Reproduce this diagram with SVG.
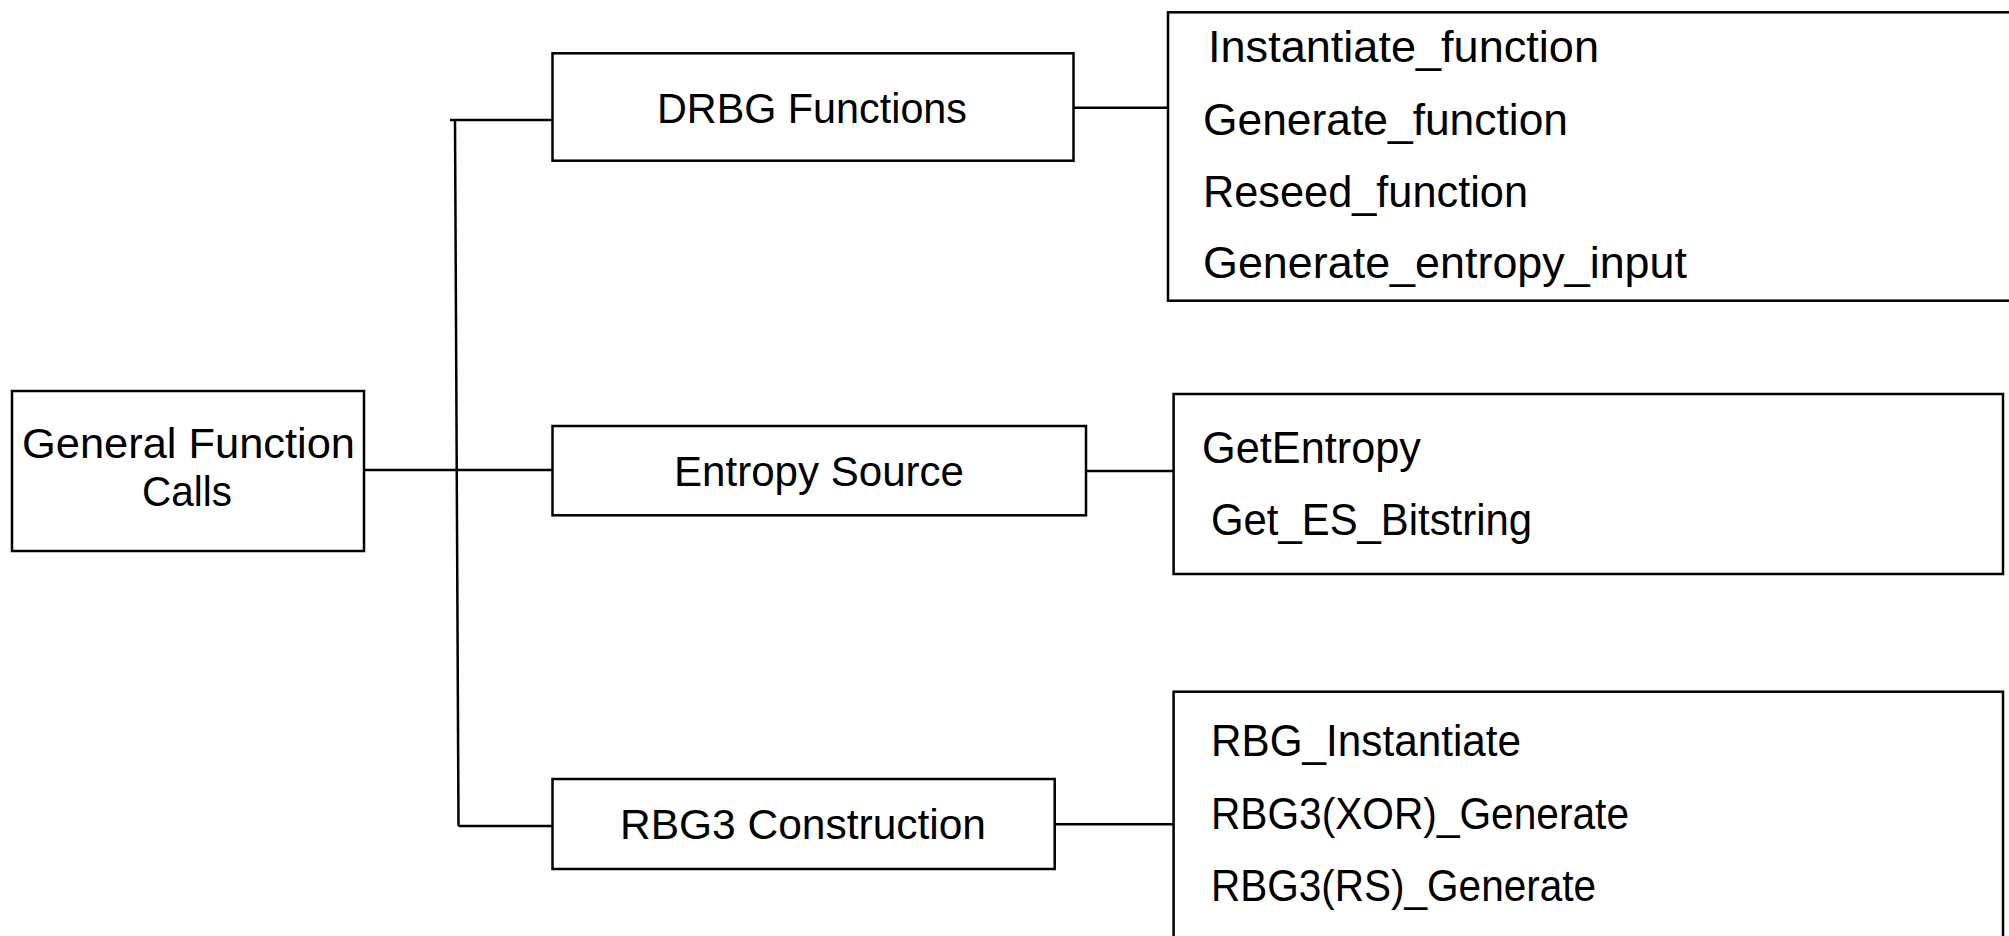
<svg xmlns="http://www.w3.org/2000/svg" width="2009" height="936" viewBox="0 0 2009 936">
<style>
.box{fill:#fff;stroke:#000;stroke-width:2.5}
.ln{stroke:#000;stroke-width:2.5;fill:none}
.lbl{font-family:"Liberation Sans",Arial,sans-serif;font-size:43px;fill:#000}
.item{font-family:"Liberation Sans",Arial,sans-serif;font-size:45px;fill:#000}
</style>
<rect width="2009" height="936" fill="#fff"/>
<g id="connectors">
<line class="ln" x1="364" y1="470" x2="552" y2="470"/>
<line class="ln" x1="455" y1="120" x2="458.5" y2="826"/>
<line class="ln" x1="450" y1="120" x2="552" y2="120"/>
<line class="ln" x1="458.5" y1="826" x2="556" y2="826"/>
<line class="ln" x1="1073" y1="107.7" x2="1168" y2="107.7"/>
<line class="ln" x1="1086" y1="471" x2="1173.6" y2="471"/>
<line class="ln" x1="1054.7" y1="824.3" x2="1173.6" y2="824.3"/>
</g>
<g id="general">
<rect class="box" x="12" y="391" width="352" height="160"/>
<text class="lbl" x="22" y="458" textLength="333" lengthAdjust="spacingAndGlyphs">General Function</text>
<text class="lbl" x="142" y="506" textLength="90" lengthAdjust="spacingAndGlyphs">Calls</text>
</g>
<g id="drbg">
<rect class="box" x="552.5" y="53.3" width="521" height="107.4"/>
<text class="lbl" x="657" y="123" textLength="310" lengthAdjust="spacingAndGlyphs">DRBG Functions</text>
</g>
<g id="entropy">
<rect class="box" x="552.5" y="426" width="533.5" height="89.3"/>
<text class="lbl" x="674" y="485.5" textLength="290" lengthAdjust="spacingAndGlyphs">Entropy Source</text>
</g>
<g id="rbg3">
<rect class="box" x="552.5" y="779" width="502.2" height="90"/>
<text class="lbl" x="620" y="838.5" textLength="366" lengthAdjust="spacingAndGlyphs">RBG3 Construction</text>
</g>
<g id="drbg-list">
<rect class="box" x="1168" y="12.3" width="850" height="288.4"/>
<text class="item" x="1208" y="61.5" textLength="391" lengthAdjust="spacingAndGlyphs">Instantiate_function</text>
<text class="item" x="1203" y="134.5" textLength="365" lengthAdjust="spacingAndGlyphs">Generate_function</text>
<text class="item" x="1203" y="206.5" textLength="325" lengthAdjust="spacingAndGlyphs">Reseed_function</text>
<text class="item" x="1203" y="278" textLength="484" lengthAdjust="spacingAndGlyphs">Generate_entropy_input</text>
</g>
<g id="entropy-list">
<rect class="box" x="1173.6" y="394" width="829.4" height="180"/>
<text class="item" x="1202" y="463" textLength="219" lengthAdjust="spacingAndGlyphs">GetEntropy</text>
<text class="item" x="1211" y="535" textLength="321" lengthAdjust="spacingAndGlyphs">Get_ES_Bitstring</text>
</g>
<g id="rbg3-list">
<rect class="box" x="1173.6" y="691.7" width="829.4" height="260"/>
<text class="item" x="1211" y="756" textLength="310" lengthAdjust="spacingAndGlyphs">RBG_Instantiate</text>
<text class="item" x="1211" y="829" textLength="418" lengthAdjust="spacingAndGlyphs">RBG3(XOR)_Generate</text>
<text class="item" x="1211" y="901" textLength="385" lengthAdjust="spacingAndGlyphs">RBG3(RS)_Generate</text>
</g>
</svg>
